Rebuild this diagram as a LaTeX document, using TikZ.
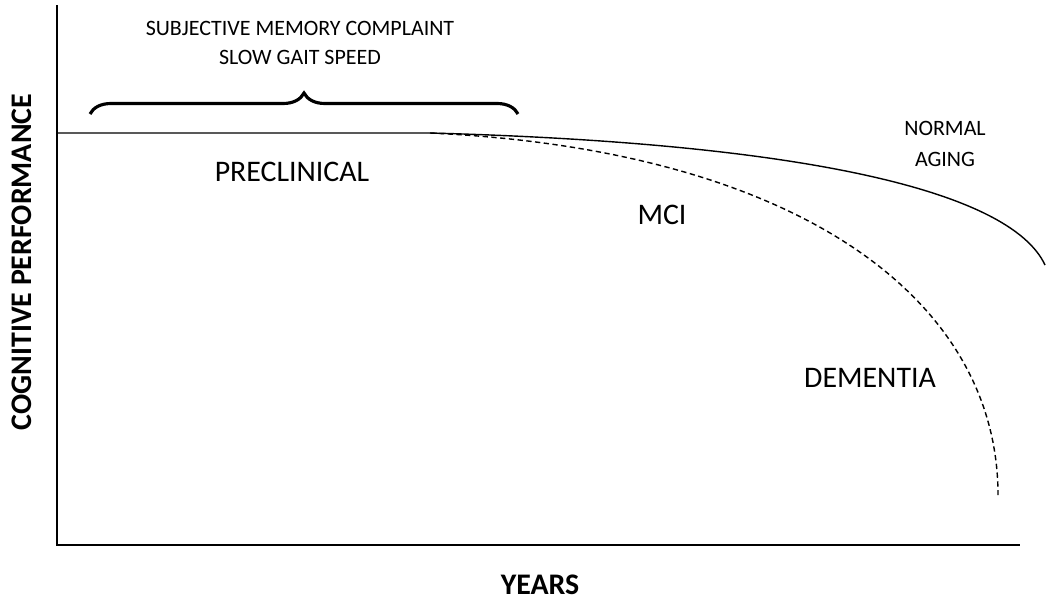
\documentclass[tikz,border=0pt]{standalone}
\usepackage{fontspec}
\setmainfont{Carlito}
\usetikzlibrary{decorations.pathreplacing}
\begin{document}
\begin{tikzpicture}[x=0.02cm,y=-0.02cm,
  lbl/.style={font=\fontsize{17}{20}\selectfont},
  small/.style={font=\fontsize{12.5}{15}\selectfont, align=center},
  axlbl/.style={font=\bfseries\fontsize{17}{20}\selectfont}]
\useasboundingbox (0,0) rectangle (1050,605);
\coordinate (top) at (57,5);
\coordinate (o) at (57,545);
\coordinate (xe) at (1020,545);
\draw[line width=1.2pt] (top) -- (o) -- (xe);
\coordinate (b0) at (57,133);
\coordinate (split) at (430,133);
\coordinate (na) at (1045,265);
\coordinate (de) at (998,495);
\draw[line width=0.8pt] (b0) -- (split) .. controls (800,143) and (1010,190) .. (na);
\draw[line width=0.8pt, dashed, dash pattern=on 3pt off 2pt] (split) .. controls (800,150) and (998,300) .. (de);
\coordinate (bl) at (90,114);
\coordinate (br) at (518,114);
\draw[line width=1.8pt, decorate, decoration={brace, amplitude=0.42cm}] (bl) -- (br);
\node[small] (t1) at (300,28) {SUBJECTIVE MEMORY COMPLAINT};
\node[small] (t2) at (300,57) {SLOW GAIT SPEED};
\node[lbl] (pre) at (292,172) {PRECLINICAL};
\node[lbl] (mci) at (662,215) {MCI};
\node[lbl] (dem) at (870,378) {DEMENTIA};
\node[small, align=center] (norm) at (945,144) {NORMAL\\[3pt]AGING};
\node[axlbl, rotate=90] (yl) at (22,262) {COGNITIVE PERFORMANCE};
\node[axlbl] (xl) at (540,585) {YEARS};
\end{tikzpicture}
\end{document}
